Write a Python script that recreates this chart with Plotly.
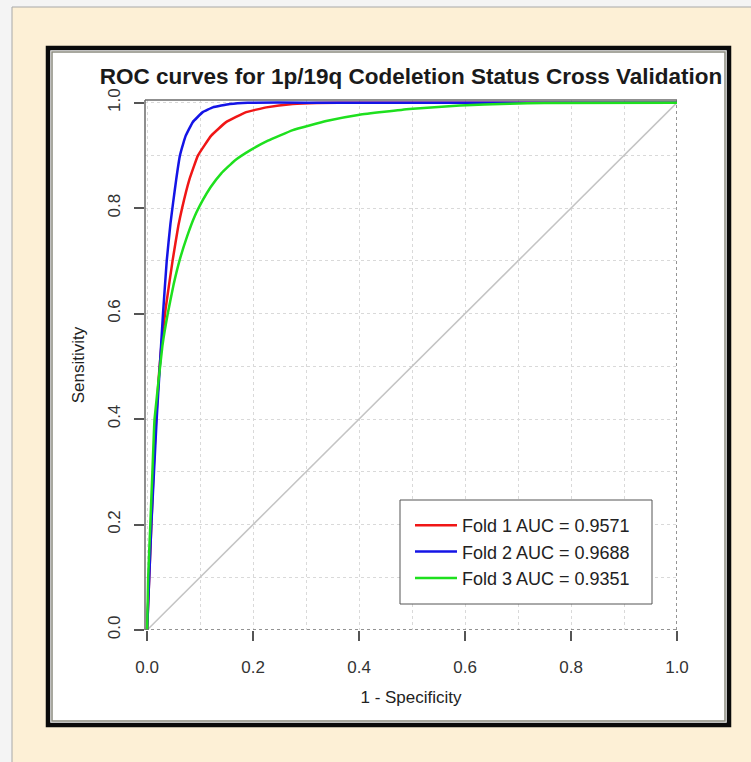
import plotly.graph_objects as go

# ---------------- data ----------------
fold1_fpr = [0, 0.004, 0.008, 0.012, 0.017, 0.022, 0.027, 0.035, 0.048, 0.059, 0.066, 0.080, 0.096, 0.121, 0.149, 0.187, 0.225, 0.275, 0.32, 0.40, 1.0]
fold1_tpr = [0, 0.10, 0.20, 0.30, 0.40, 0.48, 0.54, 0.61, 0.70, 0.767, 0.80, 0.855, 0.90, 0.9375, 0.963, 0.982, 0.991, 0.9975, 0.9995, 1.0, 1.0]

fold2_fpr = [0, 0.004, 0.008, 0.013, 0.018, 0.024, 0.030, 0.037, 0.044, 0.049, 0.055, 0.062, 0.068, 0.073, 0.086, 0.105, 0.124, 0.156, 0.19, 0.30, 1.0]
fold2_tpr = [0, 0.10, 0.20, 0.30, 0.40, 0.50, 0.60, 0.70, 0.77, 0.81, 0.855, 0.90, 0.922, 0.9375, 0.963, 0.982, 0.991, 0.9975, 1.0, 1.0, 1.0]

fold3_fpr = [0, 0.002, 0.006, 0.010, 0.014, 0.029, 0.039, 0.050, 0.061, 0.075, 0.090, 0.105, 0.120, 0.140, 0.165, 0.195, 0.228, 0.275, 0.338, 0.401, 0.495, 0.590, 0.684, 0.75, 1.0]
fold3_tpr = [0, 0.10, 0.20, 0.30, 0.40, 0.54, 0.60, 0.655, 0.70, 0.745, 0.785, 0.815, 0.84, 0.866, 0.89, 0.91, 0.928, 0.948, 0.965, 0.977, 0.988, 0.9945, 0.998, 0.9995, 1.0]

fold_names = ["Fold 1 AUC = 0.9571", "Fold 2 AUC = 0.9688", "Fold 3 AUC = 0.9351"]
fold_colors = ["#f01616", "#1414e6", "#1ee01e"]

diag_x = [0, 1]
diag_y = [0, 1]

tick_vals = [0.0, 0.2, 0.4, 0.6, 0.8, 1.0]
tick_text = ["0.0", "0.2", "0.4", "0.6", "0.8", "1.0"]

title_text = "ROC curves for 1p/19q Codeletion Status Cross Validation"
x_title = "1 - Specificity"
y_title = "Sensitivity"

# ---------------- layout geometry ----------------
W, H = 751, 762
ML, MR, MT, MB = 145, 74, 100, 132
PW = W - ML - MR
PH = H - MT - MB

def px(x):
    return (x - ML) / PW

def py(y):
    return (H - MB - y) / PH

FONT = "Liberation Sans, Arial, Helvetica, sans-serif"

fig = go.Figure()

fig.add_trace(go.Scatter(x=diag_x, y=diag_y, mode="lines",
                         line=dict(color="#c4c4c4", width=1.5),
                         showlegend=False, hoverinfo="skip"))

for fx, fy, name, col in [(fold1_fpr, fold1_tpr, fold_names[0], fold_colors[0]),
                          (fold2_fpr, fold2_tpr, fold_names[1], fold_colors[1]),
                          (fold3_fpr, fold3_tpr, fold_names[2], fold_colors[2])]:
    fig.add_trace(go.Scatter(x=fx, y=fy, mode="lines", name=name,
                             line=dict(color=col, width=2.5, shape="spline", smoothing=0.3)))

shapes = [
    # cream background panel
    dict(type="rect", xref="paper", yref="paper", x0=px(12), x1=px(780), y0=py(7), y1=py(790),
         fillcolor="#fdf0d6", line=dict(color="#a8a8a8", width=1), layer="below"),
    # black frame with white inside
    dict(type="rect", xref="paper", yref="paper", x0=px(48), x1=px(729), y0=py(48), y1=py(725),
         fillcolor="#ffffff", line=dict(color="#0a0a0a", width=4.5), layer="below"),
    # thin grey inner line
    dict(type="rect", xref="paper", yref="paper", x0=px(52), x1=px(725), y0=py(52), y1=py(721),
         fillcolor="rgba(0,0,0,0)", line=dict(color="#8c8c80", width=1.5), layer="below"),
    # plot box: solid left & top, dotted bottom & right
    dict(type="line", xref="x domain", yref="y domain", x0=0, x1=0, y0=0, y1=1,
         line=dict(color="#6a6a6a", width=1.5), layer="above"),
    dict(type="line", xref="x domain", yref="y domain", x0=0, x1=1, y0=1, y1=1,
         line=dict(color="#6a6a6a", width=1.5), layer="above"),
    dict(type="line", xref="x domain", yref="y", x0=0, x1=1, y0=0, y1=0,
         line=dict(color="#707070", width=1.5, dash="dot"), layer="above"),
    dict(type="line", xref="x", yref="y domain", x0=1, x1=1, y0=0, y1=1,
         line=dict(color="#707070", width=1.5, dash="dot"), layer="below"),
    # legend box
    dict(type="rect", xref="paper", yref="paper", x0=px(400), x1=px(652), y0=py(500), y1=py(604),
         fillcolor="#ffffff", line=dict(color="#555555", width=1), layer="above"),
]

axis_common = dict(
    tickvals=tick_vals, ticktext=tick_text,
    ticks="outside", ticklen=10, tickwidth=1.5, tickcolor="#555555",
    showgrid=True, gridcolor="#d9d9d9", gridwidth=1.3, griddash="dot",
    minor=dict(dtick=0.1, tick0=0, showgrid=True, gridcolor="#d9d9d9", gridwidth=1.3, griddash="dot"),
    zeroline=False, showline=False,
    tickfont=dict(family=FONT, size=17, color="#333333"),
)

fig.update_layout(
    width=W, height=H,
    margin=dict(l=ML, r=MR, t=MT, b=MB, autoexpand=False),
    paper_bgcolor="#f4f4f4",
    plot_bgcolor="rgba(255,255,255,0)",
    shapes=shapes,
    title=dict(text="<b>" + title_text + "</b>", x=0.5, xref="paper", xanchor="center",
               y=1 - 76 / H, yref="container", yanchor="middle",
               font=dict(family=FONT, size=22.5, color="#1a1a1a")),
    xaxis=dict(range=[-0.004, 1.0], ticklabelstandoff=12, **axis_common,
               title=dict(text=x_title, standoff=14, font=dict(family=FONT, size=17, color="#222222"))),
    yaxis=dict(range=[0.0, 1.005], tickangle=-90, ticklabelstandoff=7, **axis_common,
               title=dict(text=y_title, standoff=16, font=dict(family=FONT, size=17, color="#222222"))),
    legend=dict(x=px(410), y=py(507), xanchor="left", yanchor="top",
                bgcolor="rgba(0,0,0,0)", borderwidth=0, itemwidth=42,
                font=dict(family=FONT, size=18, color="#222222")),
    showlegend=True,
)

fig.write_html("out.html", config={"displayModeBar": False},
               post_script="document.body.style.margin='0px';")
